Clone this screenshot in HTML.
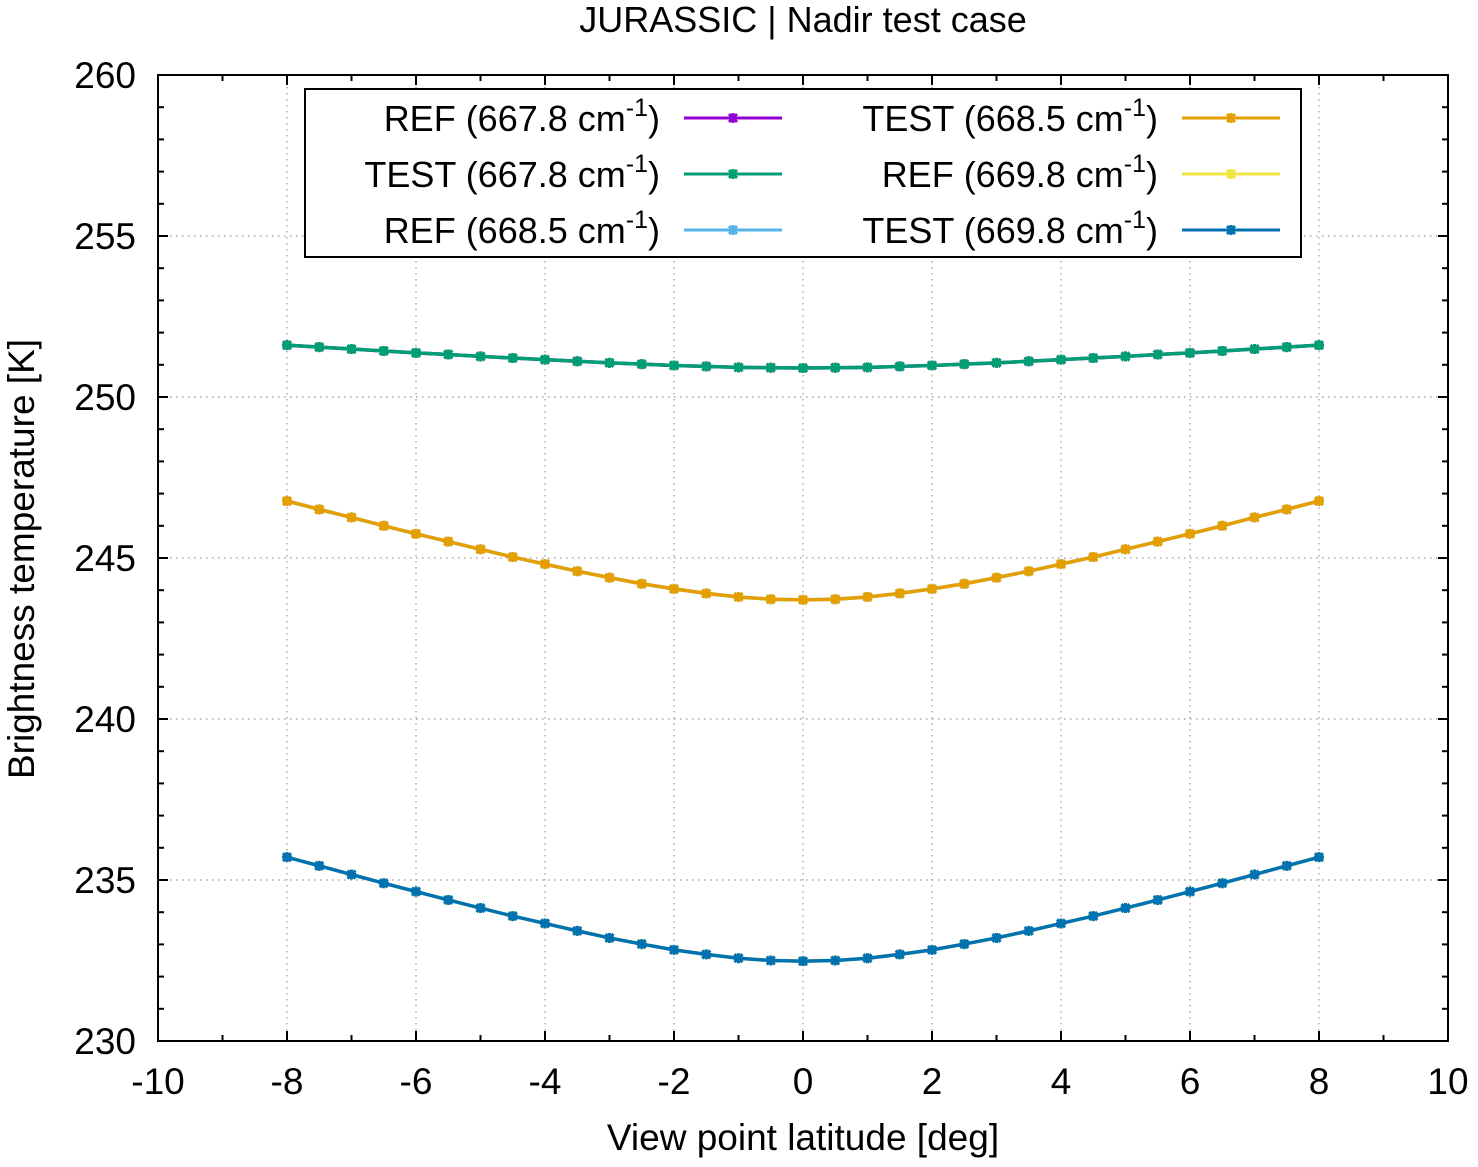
<!DOCTYPE html>
<html><head><meta charset="utf-8"><style>
body{margin:0;background:#fff}
svg text{font-family:"Liberation Sans",Arial,sans-serif;fill:#000}
</style></head><body>
<svg id="chart" width="1478" height="1162" xmlns="http://www.w3.org/2000/svg">
<text x="803" y="32" font-size="36" text-anchor="middle">JURASSIC | Nadir test case</text>
<text x="803" y="1150" font-size="37" text-anchor="middle">View point latitude [deg]</text>
<text transform="translate(34,559) rotate(-90)" font-size="37" text-anchor="middle">Brightness temperature [K]</text>
<g id="grid"></g><g id="ticks"></g><g id="series"></g>
<rect x="158" y="75" width="1290" height="966" fill="none" stroke="#000" stroke-width="2"/>
<g>
<rect x="305" y="89" width="996" height="168" fill="#fff" stroke="#000" stroke-width="2"/>
<g id="legend-entries"></g>
</g>
</svg>
<script>
const xTicks=[-10,-8,-6,-4,-2,0,2,4,6,8,10];
const yTicks=[230,235,240,245,250,255,260];
const lats=[-8,-7.5,-7,-6.5,-6,-5.5,-5,-4.5,-4,-3.5,-3,-2.5,-2,-1.5,-1,-0.5,0,0.5,1,1.5,2,2.5,3,3.5,4,4.5,5,5.5,6,6.5,7,7.5,8];
const bt6678=[251.61,251.55,251.49,251.43,251.37,251.32,251.26,251.21,251.16,251.11,251.06,251.02,250.98,250.95,250.92,250.91,250.90,250.91,250.92,250.95,250.98,251.02,251.06,251.11,251.16,251.21,251.26,251.32,251.37,251.43,251.49,251.55,251.61];
const bt6685=[246.77,246.51,246.26,246.00,245.75,245.51,245.27,245.03,244.81,244.59,244.39,244.20,244.04,243.90,243.79,243.72,243.70,243.72,243.79,243.90,244.04,244.20,244.39,244.59,244.81,245.03,245.27,245.51,245.75,246.00,246.26,246.51,246.77];
const bt6698=[235.71,235.44,235.17,234.90,234.64,234.38,234.13,233.88,233.65,233.42,233.20,233.01,232.83,232.69,232.57,232.50,232.48,232.50,232.57,232.69,232.83,233.01,233.20,233.42,233.65,233.88,234.13,234.38,234.64,234.90,235.17,235.44,235.71];
const seriesNames=["REF (667.8","TEST (667.8","REF (668.5","TEST (668.5","REF (669.8","TEST (669.8"];
const seriesData=[bt6678,bt6678,bt6685,bt6685,bt6698,bt6698];
const colors=["#9400d3","#009e73","#56b4e9","#e69f00","#f0e442","#0072b2"];
const X=v=>158+(v+10)*64.5, Y=v=>1041-(v-230)*32.2;
const NS="http://www.w3.org/2000/svg";
function mk(tag,attrs,parent){const e=document.createElementNS(NS,tag);for(const k in attrs)e.setAttribute(k,attrs[k]);parent.appendChild(e);return e;}
const grid=document.getElementById('grid'),ticks=document.getElementById('ticks'),ser=document.getElementById('series');
xTicks.forEach(t=>{const x=X(t);
 if(t>-10&&t<10){const g=mk('line',{x1:x,x2:x,y1:75,y2:1041,stroke:'#999','stroke-width':1.2,'stroke-dasharray':'1.5,4.5'},grid);
 
 }
 mk('line',{x1:x,x2:x,y1:1041,y2:1031,stroke:'#000','stroke-width':2},ticks);
 mk('line',{x1:x,x2:x,y1:75,y2:85,stroke:'#000','stroke-width':2},ticks);
 const l=mk('text',{x:x,y:1094,'font-size':37,'text-anchor':'middle'},ticks);l.textContent=t;
 
 
});
for(let t=-9;t<10;t+=2){const x=X(t);mk('line',{x1:x,x2:x,y1:1041,y2:1035,stroke:'#000','stroke-width':2},ticks);mk('line',{x1:x,x2:x,y1:75,y2:81,stroke:'#000','stroke-width':2},ticks);}
yTicks.forEach(t=>{const y=Y(t);
 if(t>230&&t<260){const g=mk('line',{x1:158,x2:1448,y1:y,y2:y,stroke:'#999','stroke-width':1.2,'stroke-dasharray':'1.5,4.5'},grid);
 
 }
 mk('line',{x1:158,x2:168,y1:y,y2:y,stroke:'#000','stroke-width':2},ticks);
 mk('line',{x1:1448,x2:1438,y1:y,y2:y,stroke:'#000','stroke-width':2},ticks);
 const l=mk('text',{x:136,y:y+13,'font-size':37,'text-anchor':'end'},ticks);l.textContent=t;
 
 
});
for(let t=231;t<260;t++){if(t%5===0)continue;const y=Y(t);mk('line',{x1:158,x2:164,y1:y,y2:y,stroke:'#000','stroke-width':2},ticks);mk('line',{x1:1448,x2:1442,y1:y,y2:y,stroke:'#000','stroke-width':2},ticks);}
function marker(x,y,c,p){mk('path',{d:`M${x-4},${y-4}L${x+4},${y+4}M${x-4},${y+4}L${x+4},${y-4}M${x-5},${y}L${x+5},${y}M${x},${y-5}L${x},${y+5}`,stroke:c,'stroke-width':3},p);}
seriesData.forEach((d,i)=>{
 const g=mk('g',{},ser);
 
 
 mk('polyline',{points:d.map((v,j)=>X(lats[j])+','+Y(v)).join(' '),fill:'none',stroke:colors[i],'stroke-width':3.5},g);
 d.forEach((v,j)=>marker(X(lats[j]),Y(v),colors[i],g));
});
const le=document.getElementById('legend-entries');
seriesNames.forEach((n,i)=>{
 const col=i<3?0:1, row=i%3;
 const tx=col?1158:660, lx=col?1182:684, y=118+row*56;
 const g=mk('g',{},le);
 
 
 const t=mk('text',{x:tx,y:y+13,'font-size':36,'text-anchor':'end'},g);
 t.innerHTML=n+' cm<tspan dy="-15" font-size="25">-1</tspan><tspan dy="15">)</tspan>';
 mk('line',{x1:lx,x2:lx+98,y1:y,y2:y,stroke:colors[i],'stroke-width':3},g);
 marker(lx+49,y,colors[i],g);
});
</script>
</body></html>
